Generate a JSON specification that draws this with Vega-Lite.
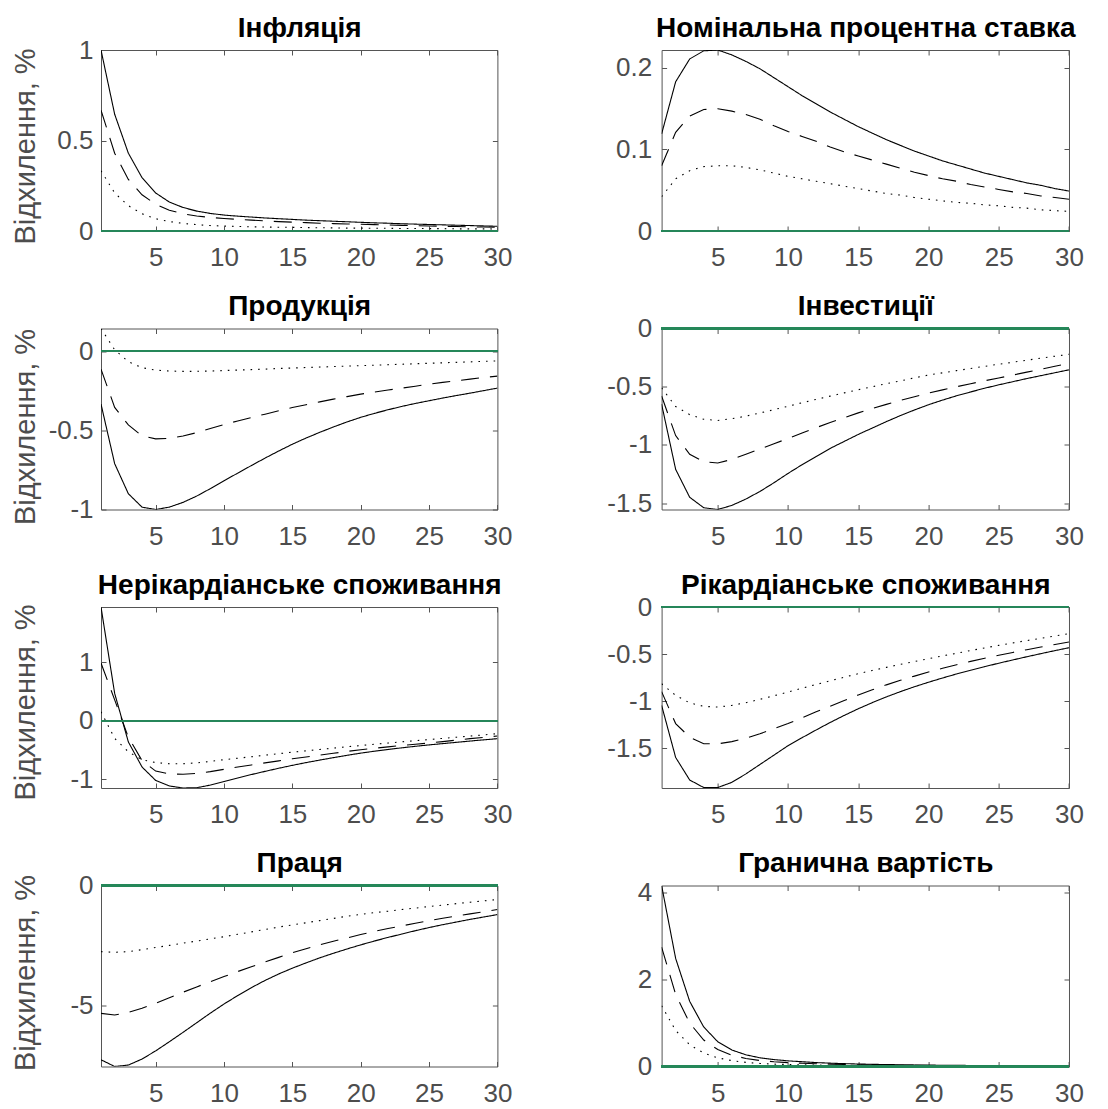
{
"$schema":"https://vega.github.io/schema/vega-lite/v6.json",
"background":"white",
"padding":{"left":10,"top":13,"right":5,"bottom":2},
"columns":2,
"spacing":{"row":97.5,"column":163.6},
"bounds":"flush",
"config":{
 "view":{"stroke":"#555555","strokeWidth":1},
 "axis":{"domain":false,"grid":false,"tickColor":"#555555","tickSize":-5,"tickWidth":1,"labelFont":"Liberation Sans","labelFontSize":26,"labelColor":"#4d4d4d","labelFlush":false,"labelOverlap":false,"titleFont":"Liberation Sans","titleFontSize":29,"titleFontWeight":"normal","titleColor":"#4d4d4d"},
 "axisX":{"labelPadding":18.5},
 "axisY":{"labelPadding":13}
},
"datasets":{
"p1":[
{"s":"a","t":1,"v":1.0},{"s":"a","t":2,"v":0.645},{"s":"a","t":3,"v":0.43},{"s":"a","t":4,"v":0.295},{"s":"a","t":5,"v":0.21},{"s":"a","t":6,"v":0.16},{"s":"a","t":7,"v":0.13},{"s":"a","t":8,"v":0.11},{"s":"a","t":9,"v":0.097},{"s":"a","t":10,"v":0.088},{"s":"a","t":11,"v":0.082},{"s":"a","t":12,"v":0.077},{"s":"a","t":13,"v":0.072},{"s":"a","t":14,"v":0.068},{"s":"a","t":15,"v":0.064},{"s":"a","t":16,"v":0.06},{"s":"a","t":17,"v":0.057},{"s":"a","t":18,"v":0.054},{"s":"a","t":19,"v":0.051},{"s":"a","t":20,"v":0.048},{"s":"a","t":21,"v":0.045},{"s":"a","t":22,"v":0.043},{"s":"a","t":23,"v":0.04},{"s":"a","t":24,"v":0.038},{"s":"a","t":25,"v":0.036},{"s":"a","t":26,"v":0.034},{"s":"a","t":27,"v":0.032},{"s":"a","t":28,"v":0.03},{"s":"a","t":29,"v":0.028},{"s":"a","t":30,"v":0.026},
{"s":"b","t":1,"v":0.667},{"s":"b","t":2,"v":0.43},{"s":"b","t":3,"v":0.285},{"s":"b","t":4,"v":0.2},{"s":"b","t":5,"v":0.148},{"s":"b","t":6,"v":0.115},{"s":"b","t":7,"v":0.095},{"s":"b","t":8,"v":0.083},{"s":"b","t":9,"v":0.075},{"s":"b","t":10,"v":0.069},{"s":"b","t":11,"v":0.064},{"s":"b","t":12,"v":0.06},{"s":"b","t":13,"v":0.056},{"s":"b","t":14,"v":0.052},{"s":"b","t":15,"v":0.049},{"s":"b","t":16,"v":0.046},{"s":"b","t":17,"v":0.043},{"s":"b","t":18,"v":0.041},{"s":"b","t":19,"v":0.039},{"s":"b","t":20,"v":0.037},{"s":"b","t":21,"v":0.035},{"s":"b","t":22,"v":0.033},{"s":"b","t":23,"v":0.031},{"s":"b","t":24,"v":0.029},{"s":"b","t":25,"v":0.028},{"s":"b","t":26,"v":0.026},{"s":"b","t":27,"v":0.025},{"s":"b","t":28,"v":0.023},{"s":"b","t":29,"v":0.022},{"s":"b","t":30,"v":0.02},
{"s":"c","t":1,"v":0.333},{"s":"c","t":2,"v":0.21},{"s":"c","t":3,"v":0.14},{"s":"c","t":4,"v":0.095},{"s":"c","t":5,"v":0.068},{"s":"c","t":6,"v":0.052},{"s":"c","t":7,"v":0.042},{"s":"c","t":8,"v":0.035},{"s":"c","t":9,"v":0.03},{"s":"c","t":10,"v":0.027},{"s":"c","t":11,"v":0.025},{"s":"c","t":12,"v":0.023},{"s":"c","t":13,"v":0.022},{"s":"c","t":14,"v":0.021},{"s":"c","t":15,"v":0.02},{"s":"c","t":16,"v":0.019},{"s":"c","t":17,"v":0.018},{"s":"c","t":18,"v":0.017},{"s":"c","t":19,"v":0.016},{"s":"c","t":20,"v":0.016},{"s":"c","t":21,"v":0.015},{"s":"c","t":22,"v":0.015},{"s":"c","t":23,"v":0.014},{"s":"c","t":24,"v":0.014},{"s":"c","t":25,"v":0.013},{"s":"c","t":26,"v":0.013},{"s":"c","t":27,"v":0.012},{"s":"c","t":28,"v":0.012},{"s":"c","t":29,"v":0.012},{"s":"c","t":30,"v":0.011}
],
"p2":[
{"s":"a","t":1,"v":0.119},{"s":"a","t":2,"v":0.183},{"s":"a","t":3,"v":0.211},{"s":"a","t":4,"v":0.221},{"s":"a","t":5,"v":0.222},{"s":"a","t":6,"v":0.216},{"s":"a","t":7,"v":0.208},{"s":"a","t":8,"v":0.199},{"s":"a","t":9,"v":0.188},{"s":"a","t":10,"v":0.177},{"s":"a","t":11,"v":0.166},{"s":"a","t":12,"v":0.156},{"s":"a","t":13,"v":0.146},{"s":"a","t":14,"v":0.137},{"s":"a","t":15,"v":0.128},{"s":"a","t":16,"v":0.12},{"s":"a","t":17,"v":0.112},{"s":"a","t":18,"v":0.105},{"s":"a","t":19,"v":0.098},{"s":"a","t":20,"v":0.092},{"s":"a","t":21,"v":0.086},{"s":"a","t":22,"v":0.081},{"s":"a","t":23,"v":0.076},{"s":"a","t":24,"v":0.071},{"s":"a","t":25,"v":0.067},{"s":"a","t":26,"v":0.063},{"s":"a","t":27,"v":0.059},{"s":"a","t":28,"v":0.056},{"s":"a","t":29,"v":0.052},{"s":"a","t":30,"v":0.049},
{"s":"b","t":1,"v":0.08},{"s":"b","t":2,"v":0.121},{"s":"b","t":3,"v":0.141},{"s":"b","t":4,"v":0.149},{"s":"b","t":5,"v":0.15},{"s":"b","t":6,"v":0.147},{"s":"b","t":7,"v":0.143},{"s":"b","t":8,"v":0.137},{"s":"b","t":9,"v":0.129},{"s":"b","t":10,"v":0.122},{"s":"b","t":11,"v":0.116},{"s":"b","t":12,"v":0.11},{"s":"b","t":13,"v":0.103},{"s":"b","t":14,"v":0.097},{"s":"b","t":15,"v":0.092},{"s":"b","t":16,"v":0.087},{"s":"b","t":17,"v":0.082},{"s":"b","t":18,"v":0.077},{"s":"b","t":19,"v":0.072},{"s":"b","t":20,"v":0.068},{"s":"b","t":21,"v":0.064},{"s":"b","t":22,"v":0.061},{"s":"b","t":23,"v":0.057},{"s":"b","t":24,"v":0.054},{"s":"b","t":25,"v":0.051},{"s":"b","t":26,"v":0.048},{"s":"b","t":27,"v":0.046},{"s":"b","t":28,"v":0.043},{"s":"b","t":29,"v":0.041},{"s":"b","t":30,"v":0.039},
{"s":"c","t":1,"v":0.042},{"s":"c","t":2,"v":0.064},{"s":"c","t":3,"v":0.074},{"s":"c","t":4,"v":0.079},{"s":"c","t":5,"v":0.08},{"s":"c","t":6,"v":0.08},{"s":"c","t":7,"v":0.078},{"s":"c","t":8,"v":0.075},{"s":"c","t":9,"v":0.071},{"s":"c","t":10,"v":0.067},{"s":"c","t":11,"v":0.064},{"s":"c","t":12,"v":0.061},{"s":"c","t":13,"v":0.058},{"s":"c","t":14,"v":0.055},{"s":"c","t":15,"v":0.052},{"s":"c","t":16,"v":0.049},{"s":"c","t":17,"v":0.046},{"s":"c","t":18,"v":0.044},{"s":"c","t":19,"v":0.041},{"s":"c","t":20,"v":0.039},{"s":"c","t":21,"v":0.037},{"s":"c","t":22,"v":0.035},{"s":"c","t":23,"v":0.034},{"s":"c","t":24,"v":0.032},{"s":"c","t":25,"v":0.031},{"s":"c","t":26,"v":0.029},{"s":"c","t":27,"v":0.028},{"s":"c","t":28,"v":0.026},{"s":"c","t":29,"v":0.025},{"s":"c","t":30,"v":0.024}
],
"p3":[
{"s":"a","t":1,"v":-0.333},{"s":"a","t":2,"v":-0.71},{"s":"a","t":3,"v":-0.9},{"s":"a","t":4,"v":-0.985},{"s":"a","t":5,"v":-1.0},{"s":"a","t":6,"v":-0.985},{"s":"a","t":7,"v":-0.955},{"s":"a","t":8,"v":-0.915},{"s":"a","t":9,"v":-0.868},{"s":"a","t":10,"v":-0.818},{"s":"a","t":11,"v":-0.77},{"s":"a","t":12,"v":-0.722},{"s":"a","t":13,"v":-0.675},{"s":"a","t":14,"v":-0.63},{"s":"a","t":15,"v":-0.587},{"s":"a","t":16,"v":-0.548},{"s":"a","t":17,"v":-0.512},{"s":"a","t":18,"v":-0.478},{"s":"a","t":19,"v":-0.446},{"s":"a","t":20,"v":-0.417},{"s":"a","t":21,"v":-0.392},{"s":"a","t":22,"v":-0.369},{"s":"a","t":23,"v":-0.348},{"s":"a","t":24,"v":-0.329},{"s":"a","t":25,"v":-0.312},{"s":"a","t":26,"v":-0.295},{"s":"a","t":27,"v":-0.279},{"s":"a","t":28,"v":-0.264},{"s":"a","t":29,"v":-0.248},{"s":"a","t":30,"v":-0.232},
{"s":"b","t":1,"v":-0.112},{"s":"b","t":2,"v":-0.354},{"s":"b","t":3,"v":-0.465},{"s":"b","t":4,"v":-0.535},{"s":"b","t":5,"v":-0.553},{"s":"b","t":6,"v":-0.55},{"s":"b","t":7,"v":-0.535},{"s":"b","t":8,"v":-0.514},{"s":"b","t":9,"v":-0.488},{"s":"b","t":10,"v":-0.462},{"s":"b","t":11,"v":-0.44},{"s":"b","t":12,"v":-0.418},{"s":"b","t":13,"v":-0.397},{"s":"b","t":14,"v":-0.375},{"s":"b","t":15,"v":-0.355},{"s":"b","t":16,"v":-0.337},{"s":"b","t":17,"v":-0.319},{"s":"b","t":18,"v":-0.302},{"s":"b","t":19,"v":-0.286},{"s":"b","t":20,"v":-0.27},{"s":"b","t":21,"v":-0.257},{"s":"b","t":22,"v":-0.244},{"s":"b","t":23,"v":-0.232},{"s":"b","t":24,"v":-0.22},{"s":"b","t":25,"v":-0.207},{"s":"b","t":26,"v":-0.196},{"s":"b","t":27,"v":-0.186},{"s":"b","t":28,"v":-0.175},{"s":"b","t":29,"v":-0.165},{"s":"b","t":30,"v":-0.156},
{"s":"c","t":1,"v":0.145},{"s":"c","t":2,"v":0.01},{"s":"c","t":3,"v":-0.065},{"s":"c","t":4,"v":-0.103},{"s":"c","t":5,"v":-0.118},{"s":"c","t":6,"v":-0.124},{"s":"c","t":7,"v":-0.126},{"s":"c","t":8,"v":-0.126},{"s":"c","t":9,"v":-0.124},{"s":"c","t":10,"v":-0.121},{"s":"c","t":11,"v":-0.118},{"s":"c","t":12,"v":-0.115},{"s":"c","t":13,"v":-0.112},{"s":"c","t":14,"v":-0.108},{"s":"c","t":15,"v":-0.105},{"s":"c","t":16,"v":-0.102},{"s":"c","t":17,"v":-0.099},{"s":"c","t":18,"v":-0.096},{"s":"c","t":19,"v":-0.093},{"s":"c","t":20,"v":-0.09},{"s":"c","t":21,"v":-0.087},{"s":"c","t":22,"v":-0.084},{"s":"c","t":23,"v":-0.081},{"s":"c","t":24,"v":-0.078},{"s":"c","t":25,"v":-0.075},{"s":"c","t":26,"v":-0.072},{"s":"c","t":27,"v":-0.069},{"s":"c","t":28,"v":-0.066},{"s":"c","t":29,"v":-0.063},{"s":"c","t":30,"v":-0.06}
],
"p4":[
{"s":"a","t":1,"v":-0.65},{"s":"a","t":2,"v":-1.21},{"s":"a","t":3,"v":-1.45},{"s":"a","t":4,"v":-1.54},{"s":"a","t":5,"v":-1.555},{"s":"a","t":6,"v":-1.52},{"s":"a","t":7,"v":-1.465},{"s":"a","t":8,"v":-1.4},{"s":"a","t":9,"v":-1.325},{"s":"a","t":10,"v":-1.245},{"s":"a","t":11,"v":-1.17},{"s":"a","t":12,"v":-1.1},{"s":"a","t":13,"v":-1.03},{"s":"a","t":14,"v":-0.97},{"s":"a","t":15,"v":-0.91},{"s":"a","t":16,"v":-0.855},{"s":"a","t":17,"v":-0.8},{"s":"a","t":18,"v":-0.748},{"s":"a","t":19,"v":-0.7},{"s":"a","t":20,"v":-0.655},{"s":"a","t":21,"v":-0.615},{"s":"a","t":22,"v":-0.578},{"s":"a","t":23,"v":-0.545},{"s":"a","t":24,"v":-0.513},{"s":"a","t":25,"v":-0.484},{"s":"a","t":26,"v":-0.457},{"s":"a","t":27,"v":-0.43},{"s":"a","t":28,"v":-0.405},{"s":"a","t":29,"v":-0.38},{"s":"a","t":30,"v":-0.355},
{"s":"b","t":1,"v":-0.58},{"s":"b","t":2,"v":-0.92},{"s":"b","t":3,"v":-1.08},{"s":"b","t":4,"v":-1.145},{"s":"b","t":5,"v":-1.155},{"s":"b","t":6,"v":-1.125},{"s":"b","t":7,"v":-1.08},{"s":"b","t":8,"v":-1.035},{"s":"b","t":9,"v":-0.99},{"s":"b","t":10,"v":-0.945},{"s":"b","t":11,"v":-0.897},{"s":"b","t":12,"v":-0.852},{"s":"b","t":13,"v":-0.808},{"s":"b","t":14,"v":-0.766},{"s":"b","t":15,"v":-0.725},{"s":"b","t":16,"v":-0.688},{"s":"b","t":17,"v":-0.652},{"s":"b","t":18,"v":-0.618},{"s":"b","t":19,"v":-0.586},{"s":"b","t":20,"v":-0.555},{"s":"b","t":21,"v":-0.527},{"s":"b","t":22,"v":-0.5},{"s":"b","t":23,"v":-0.474},{"s":"b","t":24,"v":-0.449},{"s":"b","t":25,"v":-0.425},{"s":"b","t":26,"v":-0.4},{"s":"b","t":27,"v":-0.375},{"s":"b","t":28,"v":-0.35},{"s":"b","t":29,"v":-0.325},{"s":"b","t":30,"v":-0.3},
{"s":"c","t":1,"v":-0.51},{"s":"c","t":2,"v":-0.67},{"s":"c","t":3,"v":-0.74},{"s":"c","t":4,"v":-0.78},{"s":"c","t":5,"v":-0.79},{"s":"c","t":6,"v":-0.775},{"s":"c","t":7,"v":-0.753},{"s":"c","t":8,"v":-0.726},{"s":"c","t":9,"v":-0.697},{"s":"c","t":10,"v":-0.668},{"s":"c","t":11,"v":-0.638},{"s":"c","t":12,"v":-0.609},{"s":"c","t":13,"v":-0.581},{"s":"c","t":14,"v":-0.553},{"s":"c","t":15,"v":-0.526},{"s":"c","t":16,"v":-0.5},{"s":"c","t":17,"v":-0.474},{"s":"c","t":18,"v":-0.45},{"s":"c","t":19,"v":-0.424},{"s":"c","t":20,"v":-0.4},{"s":"c","t":21,"v":-0.381},{"s":"c","t":22,"v":-0.362},{"s":"c","t":23,"v":-0.343},{"s":"c","t":24,"v":-0.325},{"s":"c","t":25,"v":-0.307},{"s":"c","t":26,"v":-0.29},{"s":"c","t":27,"v":-0.272},{"s":"c","t":28,"v":-0.255},{"s":"c","t":29,"v":-0.238},{"s":"c","t":30,"v":-0.222}
],
"p5":[
{"s":"a","t":1,"v":1.95},{"s":"a","t":2,"v":0.47},{"s":"a","t":3,"v":-0.36},{"s":"a","t":4,"v":-0.79},{"s":"a","t":5,"v":-1.02},{"s":"a","t":6,"v":-1.115},{"s":"a","t":7,"v":-1.15},{"s":"a","t":8,"v":-1.145},{"s":"a","t":9,"v":-1.1},{"s":"a","t":10,"v":-1.04},{"s":"a","t":11,"v":-0.98},{"s":"a","t":12,"v":-0.92},{"s":"a","t":13,"v":-0.865},{"s":"a","t":14,"v":-0.812},{"s":"a","t":15,"v":-0.762},{"s":"a","t":16,"v":-0.715},{"s":"a","t":17,"v":-0.672},{"s":"a","t":18,"v":-0.63},{"s":"a","t":19,"v":-0.59},{"s":"a","t":20,"v":-0.553},{"s":"a","t":21,"v":-0.52},{"s":"a","t":22,"v":-0.49},{"s":"a","t":23,"v":-0.462},{"s":"a","t":24,"v":-0.436},{"s":"a","t":25,"v":-0.412},{"s":"a","t":26,"v":-0.39},{"s":"a","t":27,"v":-0.368},{"s":"a","t":28,"v":-0.346},{"s":"a","t":29,"v":-0.325},{"s":"a","t":30,"v":-0.305},
{"s":"b","t":1,"v":0.99},{"s":"b","t":2,"v":0.36},{"s":"b","t":3,"v":-0.28},{"s":"b","t":4,"v":-0.68},{"s":"b","t":5,"v":-0.86},{"s":"b","t":6,"v":-0.91},{"s":"b","t":7,"v":-0.915},{"s":"b","t":8,"v":-0.9},{"s":"b","t":9,"v":-0.87},{"s":"b","t":10,"v":-0.83},{"s":"b","t":11,"v":-0.79},{"s":"b","t":12,"v":-0.755},{"s":"b","t":13,"v":-0.72},{"s":"b","t":14,"v":-0.685},{"s":"b","t":15,"v":-0.65},{"s":"b","t":16,"v":-0.618},{"s":"b","t":17,"v":-0.586},{"s":"b","t":18,"v":-0.555},{"s":"b","t":19,"v":-0.524},{"s":"b","t":20,"v":-0.495},{"s":"b","t":21,"v":-0.47},{"s":"b","t":22,"v":-0.446},{"s":"b","t":23,"v":-0.422},{"s":"b","t":24,"v":-0.4},{"s":"b","t":25,"v":-0.38},{"s":"b","t":26,"v":-0.355},{"s":"b","t":27,"v":-0.33},{"s":"b","t":28,"v":-0.305},{"s":"b","t":29,"v":-0.282},{"s":"b","t":30,"v":-0.26},
{"s":"c","t":1,"v":0.155},{"s":"c","t":2,"v":-0.3},{"s":"c","t":3,"v":-0.53},{"s":"c","t":4,"v":-0.665},{"s":"c","t":5,"v":-0.715},{"s":"c","t":6,"v":-0.735},{"s":"c","t":7,"v":-0.735},{"s":"c","t":8,"v":-0.72},{"s":"c","t":9,"v":-0.695},{"s":"c","t":10,"v":-0.665},{"s":"c","t":11,"v":-0.64},{"s":"c","t":12,"v":-0.615},{"s":"c","t":13,"v":-0.588},{"s":"c","t":14,"v":-0.562},{"s":"c","t":15,"v":-0.537},{"s":"c","t":16,"v":-0.513},{"s":"c","t":17,"v":-0.49},{"s":"c","t":18,"v":-0.467},{"s":"c","t":19,"v":-0.444},{"s":"c","t":20,"v":-0.422},{"s":"c","t":21,"v":-0.401},{"s":"c","t":22,"v":-0.38},{"s":"c","t":23,"v":-0.36},{"s":"c","t":24,"v":-0.34},{"s":"c","t":25,"v":-0.32},{"s":"c","t":26,"v":-0.3},{"s":"c","t":27,"v":-0.28},{"s":"c","t":28,"v":-0.26},{"s":"c","t":29,"v":-0.24},{"s":"c","t":30,"v":-0.22}
],
"p6":[
{"s":"a","t":1,"v":-1.046},{"s":"a","t":2,"v":-1.6},{"s":"a","t":3,"v":-1.84},{"s":"a","t":4,"v":-1.92},{"s":"a","t":5,"v":-1.92},{"s":"a","t":6,"v":-1.865},{"s":"a","t":7,"v":-1.775},{"s":"a","t":8,"v":-1.675},{"s":"a","t":9,"v":-1.575},{"s":"a","t":10,"v":-1.475},{"s":"a","t":11,"v":-1.39},{"s":"a","t":12,"v":-1.308},{"s":"a","t":13,"v":-1.228},{"s":"a","t":14,"v":-1.153},{"s":"a","t":15,"v":-1.082},{"s":"a","t":16,"v":-1.017},{"s":"a","t":17,"v":-0.956},{"s":"a","t":18,"v":-0.9},{"s":"a","t":19,"v":-0.848},{"s":"a","t":20,"v":-0.8},{"s":"a","t":21,"v":-0.755},{"s":"a","t":22,"v":-0.712},{"s":"a","t":23,"v":-0.672},{"s":"a","t":24,"v":-0.634},{"s":"a","t":25,"v":-0.598},{"s":"a","t":26,"v":-0.563},{"s":"a","t":27,"v":-0.529},{"s":"a","t":28,"v":-0.496},{"s":"a","t":29,"v":-0.464},{"s":"a","t":30,"v":-0.433},
{"s":"b","t":1,"v":-0.9},{"s":"b","t":2,"v":-1.24},{"s":"b","t":3,"v":-1.385},{"s":"b","t":4,"v":-1.455},{"s":"b","t":5,"v":-1.455},{"s":"b","t":6,"v":-1.432},{"s":"b","t":7,"v":-1.395},{"s":"b","t":8,"v":-1.348},{"s":"b","t":9,"v":-1.295},{"s":"b","t":10,"v":-1.24},{"s":"b","t":11,"v":-1.178},{"s":"b","t":12,"v":-1.115},{"s":"b","t":13,"v":-1.055},{"s":"b","t":14,"v":-0.995},{"s":"b","t":15,"v":-0.935},{"s":"b","t":16,"v":-0.88},{"s":"b","t":17,"v":-0.828},{"s":"b","t":18,"v":-0.78},{"s":"b","t":19,"v":-0.735},{"s":"b","t":20,"v":-0.692},{"s":"b","t":21,"v":-0.652},{"s":"b","t":22,"v":-0.614},{"s":"b","t":23,"v":-0.578},{"s":"b","t":24,"v":-0.545},{"s":"b","t":25,"v":-0.513},{"s":"b","t":26,"v":-0.483},{"s":"b","t":27,"v":-0.454},{"s":"b","t":28,"v":-0.426},{"s":"b","t":29,"v":-0.399},{"s":"b","t":30,"v":-0.372},
{"s":"c","t":1,"v":-0.816},{"s":"c","t":2,"v":-0.94},{"s":"c","t":3,"v":-1.02},{"s":"c","t":4,"v":-1.057},{"s":"c","t":5,"v":-1.064},{"s":"c","t":6,"v":-1.046},{"s":"c","t":7,"v":-1.018},{"s":"c","t":8,"v":-0.982},{"s":"c","t":9,"v":-0.944},{"s":"c","t":10,"v":-0.904},{"s":"c","t":11,"v":-0.864},{"s":"c","t":12,"v":-0.824},{"s":"c","t":13,"v":-0.785},{"s":"c","t":14,"v":-0.747},{"s":"c","t":15,"v":-0.709},{"s":"c","t":16,"v":-0.675},{"s":"c","t":17,"v":-0.642},{"s":"c","t":18,"v":-0.61},{"s":"c","t":19,"v":-0.58},{"s":"c","t":20,"v":-0.55},{"s":"c","t":21,"v":-0.52},{"s":"c","t":22,"v":-0.492},{"s":"c","t":23,"v":-0.463},{"s":"c","t":24,"v":-0.435},{"s":"c","t":25,"v":-0.408},{"s":"c","t":26,"v":-0.382},{"s":"c","t":27,"v":-0.357},{"s":"c","t":28,"v":-0.333},{"s":"c","t":29,"v":-0.308},{"s":"c","t":30,"v":-0.284}
],
"p7":[
{"s":"a","t":1,"v":-7.25},{"s":"a","t":2,"v":-7.53},{"s":"a","t":3,"v":-7.47},{"s":"a","t":4,"v":-7.22},{"s":"a","t":5,"v":-6.88},{"s":"a","t":6,"v":-6.5},{"s":"a","t":7,"v":-6.11},{"s":"a","t":8,"v":-5.71},{"s":"a","t":9,"v":-5.31},{"s":"a","t":10,"v":-4.93},{"s":"a","t":11,"v":-4.58},{"s":"a","t":12,"v":-4.25},{"s":"a","t":13,"v":-3.95},{"s":"a","t":14,"v":-3.68},{"s":"a","t":15,"v":-3.44},{"s":"a","t":16,"v":-3.22},{"s":"a","t":17,"v":-3.01},{"s":"a","t":18,"v":-2.82},{"s":"a","t":19,"v":-2.64},{"s":"a","t":20,"v":-2.47},{"s":"a","t":21,"v":-2.31},{"s":"a","t":22,"v":-2.16},{"s":"a","t":23,"v":-2.02},{"s":"a","t":24,"v":-1.88},{"s":"a","t":25,"v":-1.75},{"s":"a","t":26,"v":-1.63},{"s":"a","t":27,"v":-1.52},{"s":"a","t":28,"v":-1.41},{"s":"a","t":29,"v":-1.31},{"s":"a","t":30,"v":-1.21},
{"s":"b","t":1,"v":-5.32},{"s":"b","t":2,"v":-5.39},{"s":"b","t":3,"v":-5.28},{"s":"b","t":4,"v":-5.11},{"s":"b","t":5,"v":-4.9},{"s":"b","t":6,"v":-4.67},{"s":"b","t":7,"v":-4.44},{"s":"b","t":8,"v":-4.22},{"s":"b","t":9,"v":-4.0},{"s":"b","t":10,"v":-3.79},{"s":"b","t":11,"v":-3.58},{"s":"b","t":12,"v":-3.38},{"s":"b","t":13,"v":-3.18},{"s":"b","t":14,"v":-2.99},{"s":"b","t":15,"v":-2.8},{"s":"b","t":16,"v":-2.63},{"s":"b","t":17,"v":-2.47},{"s":"b","t":18,"v":-2.32},{"s":"b","t":19,"v":-2.18},{"s":"b","t":20,"v":-2.04},{"s":"b","t":21,"v":-1.91},{"s":"b","t":22,"v":-1.79},{"s":"b","t":23,"v":-1.68},{"s":"b","t":24,"v":-1.57},{"s":"b","t":25,"v":-1.46},{"s":"b","t":26,"v":-1.36},{"s":"b","t":27,"v":-1.27},{"s":"b","t":28,"v":-1.18},{"s":"b","t":29,"v":-1.09},{"s":"b","t":30,"v":-1.0},
{"s":"c","t":1,"v":-2.75},{"s":"c","t":2,"v":-2.78},{"s":"c","t":3,"v":-2.75},{"s":"c","t":4,"v":-2.67},{"s":"c","t":5,"v":-2.58},{"s":"c","t":6,"v":-2.49},{"s":"c","t":7,"v":-2.4},{"s":"c","t":8,"v":-2.31},{"s":"c","t":9,"v":-2.22},{"s":"c","t":10,"v":-2.13},{"s":"c","t":11,"v":-2.03},{"s":"c","t":12,"v":-1.93},{"s":"c","t":13,"v":-1.83},{"s":"c","t":14,"v":-1.73},{"s":"c","t":15,"v":-1.64},{"s":"c","t":16,"v":-1.55},{"s":"c","t":17,"v":-1.46},{"s":"c","t":18,"v":-1.37},{"s":"c","t":19,"v":-1.28},{"s":"c","t":20,"v":-1.2},{"s":"c","t":21,"v":-1.13},{"s":"c","t":22,"v":-1.07},{"s":"c","t":23,"v":-1.0},{"s":"c","t":24,"v":-0.94},{"s":"c","t":25,"v":-0.875},{"s":"c","t":26,"v":-0.815},{"s":"c","t":27,"v":-0.755},{"s":"c","t":28,"v":-0.695},{"s":"c","t":29,"v":-0.64},{"s":"c","t":30,"v":-0.583}
],
"p8":[
{"s":"a","t":1,"v":4.17},{"s":"a","t":2,"v":2.49},{"s":"a","t":3,"v":1.5},{"s":"a","t":4,"v":0.91},{"s":"a","t":5,"v":0.57},{"s":"a","t":6,"v":0.38},{"s":"a","t":7,"v":0.27},{"s":"a","t":8,"v":0.2},{"s":"a","t":9,"v":0.16},{"s":"a","t":10,"v":0.13},{"s":"a","t":11,"v":0.11},{"s":"a","t":12,"v":0.09},{"s":"a","t":13,"v":0.077},{"s":"a","t":14,"v":0.066},{"s":"a","t":15,"v":0.057},{"s":"a","t":16,"v":0.05},{"s":"a","t":17,"v":0.045},{"s":"a","t":18,"v":0.04},{"s":"a","t":19,"v":0.036},{"s":"a","t":20,"v":0.032},{"s":"a","t":21,"v":0.029},{"s":"a","t":22,"v":0.026},{"s":"a","t":23,"v":0.024},{"s":"a","t":24,"v":0.022},{"s":"a","t":25,"v":0.02},{"s":"a","t":26,"v":0.018},{"s":"a","t":27,"v":0.017},{"s":"a","t":28,"v":0.016},{"s":"a","t":29,"v":0.015},{"s":"a","t":30,"v":0.014},
{"s":"b","t":1,"v":2.75},{"s":"b","t":2,"v":1.66},{"s":"b","t":3,"v":1.0},{"s":"b","t":4,"v":0.61},{"s":"b","t":5,"v":0.39},{"s":"b","t":6,"v":0.26},{"s":"b","t":7,"v":0.185},{"s":"b","t":8,"v":0.138},{"s":"b","t":9,"v":0.11},{"s":"b","t":10,"v":0.09},{"s":"b","t":11,"v":0.075},{"s":"b","t":12,"v":0.064},{"s":"b","t":13,"v":0.055},{"s":"b","t":14,"v":0.047},{"s":"b","t":15,"v":0.041},{"s":"b","t":16,"v":0.036},{"s":"b","t":17,"v":0.032},{"s":"b","t":18,"v":0.028},{"s":"b","t":19,"v":0.025},{"s":"b","t":20,"v":0.022},{"s":"b","t":21,"v":0.02},{"s":"b","t":22,"v":0.018},{"s":"b","t":23,"v":0.017},{"s":"b","t":24,"v":0.015},{"s":"b","t":25,"v":0.014},{"s":"b","t":26,"v":0.013},{"s":"b","t":27,"v":0.012},{"s":"b","t":28,"v":0.011},{"s":"b","t":29,"v":0.01},{"s":"b","t":30,"v":0.01},
{"s":"c","t":1,"v":1.4},{"s":"c","t":2,"v":0.83},{"s":"c","t":3,"v":0.5},{"s":"c","t":4,"v":0.31},{"s":"c","t":5,"v":0.2},{"s":"c","t":6,"v":0.135},{"s":"c","t":7,"v":0.095},{"s":"c","t":8,"v":0.07},{"s":"c","t":9,"v":0.055},{"s":"c","t":10,"v":0.045},{"s":"c","t":11,"v":0.038},{"s":"c","t":12,"v":0.032},{"s":"c","t":13,"v":0.027},{"s":"c","t":14,"v":0.023},{"s":"c","t":15,"v":0.02},{"s":"c","t":16,"v":0.018},{"s":"c","t":17,"v":0.016},{"s":"c","t":18,"v":0.014},{"s":"c","t":19,"v":0.013},{"s":"c","t":20,"v":0.012},{"s":"c","t":21,"v":0.011},{"s":"c","t":22,"v":0.01},{"s":"c","t":23,"v":0.009},{"s":"c","t":24,"v":0.008},{"s":"c","t":25,"v":0.008},{"s":"c","t":26,"v":0.007},{"s":"c","t":27,"v":0.007},{"s":"c","t":28,"v":0.006},{"s":"c","t":29,"v":0.006},{"s":"c","t":30,"v":0.005}
]
},
"concat":[
{"width":396.4,"height":181,"data":{"name":"p1"},
 "layer":[
  {"mark":{"type":"line","color":"black","strokeWidth":1.1,"clip":true},
   "encoding":{
    "x":{"field":"t","type":"quantitative","scale":{"domain":[1,30],"nice":false,"zero":false},"axis":{"values":[5,10,15,20,25,30],"format":"d","title":null}},
    "y":{"field":"v","type":"quantitative","scale":{"domain":[0,1],"nice":false,"zero":false},"axis":{"values":[0,0.5,1],"format":"~g","labelExpr":"replace(datum.label,'−','-')","title":"Відхилення, %","titleX":-67,"titleY":96,"titleBaseline":"alphabetic","titleAngle":270}},
    "strokeDash":{"field":"s","type":"nominal","scale":{"domain":["a","b","c"],"range":[[1,0],[18,11],[1.6,6]]},"legend":null}}},
  {"mark":{"type":"rule","color":"#26865a","strokeWidth":1.4},
   "encoding":{
    "x":{"datum":1,"type":"quantitative","scale":{"domain":[1,30],"nice":false,"zero":false},"axis":{"orient":"top","values":[5,10,15,20,25,30],"labels":false,"title":"Інфляція","titleY":-14,"titleBaseline":"alphabetic","titleFontWeight":"bold","titleFontSize":28,"titleColor":"black"}},
    "x2":{"datum":30},
    "y":{"datum":0,"type":"quantitative","scale":{"domain":[0,1],"nice":false,"zero":false},"axis":{"orient":"right","values":[0,0.5,1],"labels":false,"title":null}}}}
 ],
 "resolve":{"axis":{"x":"independent","y":"independent"}}},
{"width":407.4,"height":181,"data":{"name":"p2"},
 "layer":[
  {"mark":{"type":"line","color":"black","strokeWidth":1.1,"clip":true},
   "encoding":{
    "x":{"field":"t","type":"quantitative","scale":{"domain":[1,30],"nice":false,"zero":false},"axis":{"values":[5,10,15,20,25,30],"format":"d","title":null}},
    "y":{"field":"v","type":"quantitative","scale":{"domain":[0,0.222],"nice":false,"zero":false},"axis":{"values":[0,0.1,0.2],"format":"~g","labelExpr":"replace(datum.label,'−','-')","title":null,"labelPadding":15}},
    "strokeDash":{"field":"s","type":"nominal","scale":{"domain":["a","b","c"],"range":[[1,0],[18,11],[1.6,6]]},"legend":null}}},
  {"mark":{"type":"rule","color":"#26865a","strokeWidth":1.4},
   "encoding":{
    "x":{"datum":1,"type":"quantitative","scale":{"domain":[1,30],"nice":false,"zero":false},"axis":{"orient":"top","values":[5,10,15,20,25,30],"labels":false,"title":"Номінальна процентна ставка","titleY":-14,"titleBaseline":"alphabetic","titleFontWeight":"bold","titleFontSize":28,"titleColor":"black"}},
    "x2":{"datum":30},
    "y":{"datum":0,"type":"quantitative","scale":{"domain":[0,0.222],"nice":false,"zero":false},"axis":{"orient":"right","values":[0,0.1,0.2],"labels":false,"title":null}}}}
 ],
 "resolve":{"axis":{"x":"independent","y":"independent"}}},
{"width":396.4,"height":181,"data":{"name":"p3"},
 "layer":[
  {"mark":{"type":"line","color":"black","strokeWidth":1.1,"clip":true},
   "encoding":{
    "x":{"field":"t","type":"quantitative","scale":{"domain":[1,30],"nice":false,"zero":false},"axis":{"values":[5,10,15,20,25,30],"format":"d","title":null}},
    "y":{"field":"v","type":"quantitative","scale":{"domain":[-1,0.145],"nice":false,"zero":false},"axis":{"values":[-1,-0.5,0],"format":"~g","labelExpr":"replace(datum.label,'−','-')","title":"Відхилення, %","titleX":-67,"titleY":98,"titleBaseline":"alphabetic","titleAngle":270}},
    "strokeDash":{"field":"s","type":"nominal","scale":{"domain":["a","b","c"],"range":[[1,0],[18,11],[1.6,6]]},"legend":null}}},
  {"mark":{"type":"rule","color":"#26865a","strokeWidth":1.4},
   "encoding":{
    "x":{"datum":1,"type":"quantitative","scale":{"domain":[1,30],"nice":false,"zero":false},"axis":{"orient":"top","values":[5,10,15,20,25,30],"labels":false,"title":"Продукція","titleY":-14,"titleBaseline":"alphabetic","titleFontWeight":"bold","titleFontSize":28,"titleColor":"black"}},
    "x2":{"datum":30},
    "y":{"datum":0,"type":"quantitative","scale":{"domain":[-1,0.145],"nice":false,"zero":false},"axis":{"orient":"right","values":[-1,-0.5,0],"labels":false,"title":null}}}}
 ],
 "resolve":{"axis":{"x":"independent","y":"independent"}}},
{"width":407.4,"height":181,"data":{"name":"p4"},
 "layer":[
  {"mark":{"type":"line","color":"black","strokeWidth":1.1,"clip":true},
   "encoding":{
    "x":{"field":"t","type":"quantitative","scale":{"domain":[1,30],"nice":false,"zero":false},"axis":{"values":[5,10,15,20,25,30],"format":"d","title":null}},
    "y":{"field":"v","type":"quantitative","scale":{"domain":[-1.555,0],"nice":false,"zero":false},"axis":{"values":[-1.5,-1,-0.5,0],"format":"~g","labelExpr":"replace(datum.label,'−','-')","title":null,"labelPadding":15}},
    "strokeDash":{"field":"s","type":"nominal","scale":{"domain":["a","b","c"],"range":[[1,0],[18,11],[1.6,6]]},"legend":null}}},
  {"mark":{"type":"rule","color":"#26865a","strokeWidth":1.4},
   "encoding":{
    "x":{"datum":1,"type":"quantitative","scale":{"domain":[1,30],"nice":false,"zero":false},"axis":{"orient":"top","values":[5,10,15,20,25,30],"labels":false,"title":"Інвестиції","titleY":-14,"titleBaseline":"alphabetic","titleFontWeight":"bold","titleFontSize":28,"titleColor":"black"}},
    "x2":{"datum":30},
    "y":{"datum":0,"type":"quantitative","scale":{"domain":[-1.555,0],"nice":false,"zero":false},"axis":{"orient":"right","values":[-1.5,-1,-0.5,0],"labels":false,"title":null}}}}
 ],
 "resolve":{"axis":{"x":"independent","y":"independent"}}},
{"width":396.4,"height":181,"data":{"name":"p5"},
 "layer":[
  {"mark":{"type":"line","color":"black","strokeWidth":1.1,"clip":true},
   "encoding":{
    "x":{"field":"t","type":"quantitative","scale":{"domain":[1,30],"nice":false,"zero":false},"axis":{"values":[5,10,15,20,25,30],"format":"d","title":null}},
    "y":{"field":"v","type":"quantitative","scale":{"domain":[-1.15,1.95],"nice":false,"zero":false},"axis":{"values":[-1,0,1],"format":"~g","labelExpr":"replace(datum.label,'−','-')","title":"Відхилення, %","titleX":-67,"titleY":95,"titleBaseline":"alphabetic","titleAngle":270}},
    "strokeDash":{"field":"s","type":"nominal","scale":{"domain":["a","b","c"],"range":[[1,0],[18,11],[1.6,6]]},"legend":null}}},
  {"mark":{"type":"rule","color":"#26865a","strokeWidth":1.4},
   "encoding":{
    "x":{"datum":1,"type":"quantitative","scale":{"domain":[1,30],"nice":false,"zero":false},"axis":{"orient":"top","values":[5,10,15,20,25,30],"labels":false,"title":"Нерікардіанське споживання","titleY":-14,"titleBaseline":"alphabetic","titleFontWeight":"bold","titleFontSize":28,"titleColor":"black"}},
    "x2":{"datum":30},
    "y":{"datum":0,"type":"quantitative","scale":{"domain":[-1.15,1.95],"nice":false,"zero":false},"axis":{"orient":"right","values":[-1,0,1],"labels":false,"title":null}}}}
 ],
 "resolve":{"axis":{"x":"independent","y":"independent"}}},
{"width":407.4,"height":181,"data":{"name":"p6"},
 "layer":[
  {"mark":{"type":"line","color":"black","strokeWidth":1.1,"clip":true},
   "encoding":{
    "x":{"field":"t","type":"quantitative","scale":{"domain":[1,30],"nice":false,"zero":false},"axis":{"values":[5,10,15,20,25,30],"format":"d","title":null}},
    "y":{"field":"v","type":"quantitative","scale":{"domain":[-1.925,0],"nice":false,"zero":false},"axis":{"values":[-1.5,-1,-0.5,0],"format":"~g","labelExpr":"replace(datum.label,'−','-')","title":null,"labelPadding":15}},
    "strokeDash":{"field":"s","type":"nominal","scale":{"domain":["a","b","c"],"range":[[1,0],[18,11],[1.6,6]]},"legend":null}}},
  {"mark":{"type":"rule","color":"#26865a","strokeWidth":1.4},
   "encoding":{
    "x":{"datum":1,"type":"quantitative","scale":{"domain":[1,30],"nice":false,"zero":false},"axis":{"orient":"top","values":[5,10,15,20,25,30],"labels":false,"title":"Рікардіанське споживання","titleY":-14,"titleBaseline":"alphabetic","titleFontWeight":"bold","titleFontSize":28,"titleColor":"black"}},
    "x2":{"datum":30},
    "y":{"datum":0,"type":"quantitative","scale":{"domain":[-1.925,0],"nice":false,"zero":false},"axis":{"orient":"right","values":[-1.5,-1,-0.5,0],"labels":false,"title":null}}}}
 ],
 "resolve":{"axis":{"x":"independent","y":"independent"}}},
{"width":396.4,"height":181,"data":{"name":"p7"},
 "layer":[
  {"mark":{"type":"line","color":"black","strokeWidth":1.1,"clip":true},
   "encoding":{
    "x":{"field":"t","type":"quantitative","scale":{"domain":[1,30],"nice":false,"zero":false},"axis":{"values":[5,10,15,20,25,30],"format":"d","title":null}},
    "y":{"field":"v","type":"quantitative","scale":{"domain":[-7.53,0],"nice":false,"zero":false},"axis":{"values":[-5,0],"format":"~g","labelExpr":"replace(datum.label,'−','-')","title":"Відхилення, %","titleX":-67,"titleY":87,"titleBaseline":"alphabetic","titleAngle":270}},
    "strokeDash":{"field":"s","type":"nominal","scale":{"domain":["a","b","c"],"range":[[1,0],[18,11],[1.6,6]]},"legend":null}}},
  {"mark":{"type":"rule","color":"#26865a","strokeWidth":1.4},
   "encoding":{
    "x":{"datum":1,"type":"quantitative","scale":{"domain":[1,30],"nice":false,"zero":false},"axis":{"orient":"top","values":[5,10,15,20,25,30],"labels":false,"title":"Праця","titleY":-14,"titleBaseline":"alphabetic","titleFontWeight":"bold","titleFontSize":28,"titleColor":"black"}},
    "x2":{"datum":30},
    "y":{"datum":0,"type":"quantitative","scale":{"domain":[-7.53,0],"nice":false,"zero":false},"axis":{"orient":"right","values":[-5,0],"labels":false,"title":null}}}}
 ],
 "resolve":{"axis":{"x":"independent","y":"independent"}}},
{"width":407.4,"height":181,"data":{"name":"p8"},
 "layer":[
  {"mark":{"type":"line","color":"black","strokeWidth":1.1,"clip":true},
   "encoding":{
    "x":{"field":"t","type":"quantitative","scale":{"domain":[1,30],"nice":false,"zero":false},"axis":{"values":[5,10,15,20,25,30],"format":"d","title":null}},
    "y":{"field":"v","type":"quantitative","scale":{"domain":[0,4.17],"nice":false,"zero":false},"axis":{"values":[0,2,4],"format":"~g","labelExpr":"replace(datum.label,'−','-')","title":null,"labelPadding":15}},
    "strokeDash":{"field":"s","type":"nominal","scale":{"domain":["a","b","c"],"range":[[1,0],[18,11],[1.6,6]]},"legend":null}}},
  {"mark":{"type":"rule","color":"#26865a","strokeWidth":1.4},
   "encoding":{
    "x":{"datum":1,"type":"quantitative","scale":{"domain":[1,30],"nice":false,"zero":false},"axis":{"orient":"top","values":[5,10,15,20,25,30],"labels":false,"title":"Гранична вартість","titleY":-14,"titleBaseline":"alphabetic","titleFontWeight":"bold","titleFontSize":28,"titleColor":"black"}},
    "x2":{"datum":30},
    "y":{"datum":0,"type":"quantitative","scale":{"domain":[0,4.17],"nice":false,"zero":false},"axis":{"orient":"right","values":[0,2,4],"labels":false,"title":null}}}}
 ],
 "resolve":{"axis":{"x":"independent","y":"independent"}}}
]
}
